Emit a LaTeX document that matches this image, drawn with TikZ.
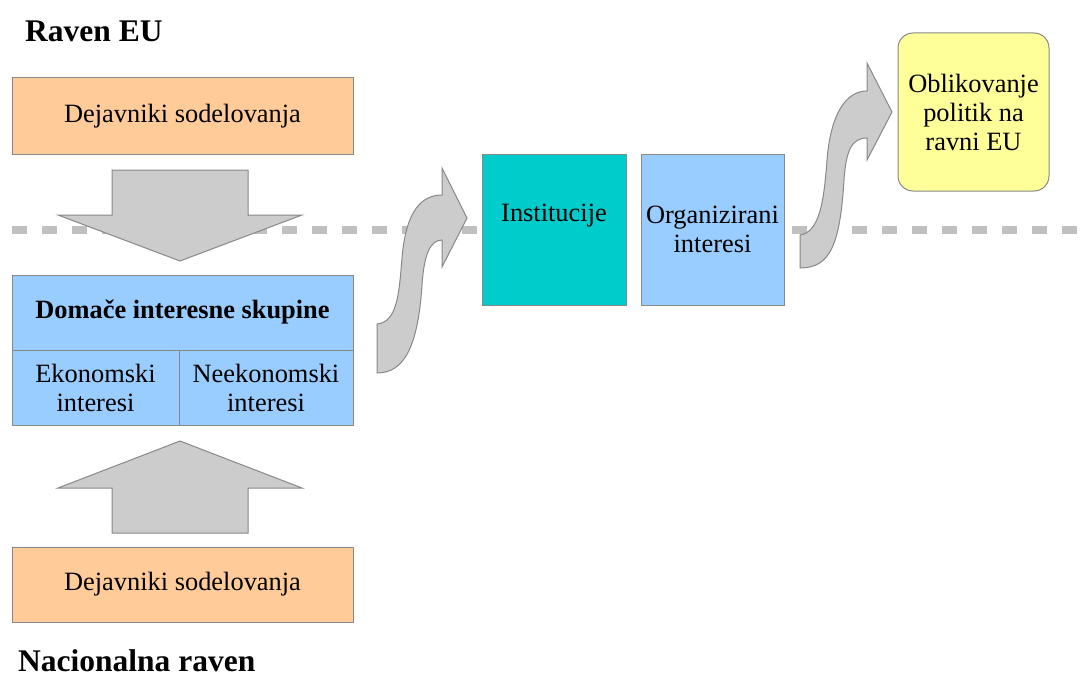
\documentclass[tikz,border=0pt]{standalone}
\usepackage{fontspec}
\setmainfont{Liberation Serif}

\definecolor{peach}{HTML}{FFCC99}
\definecolor{skyblue}{HTML}{99CCFF}
\definecolor{cyanbox}{HTML}{00CCCC}
\definecolor{paleyellow}{HTML}{FFFF99}
\definecolor{arrowfill}{HTML}{CCCCCC}
\definecolor{edgegray}{HTML}{888888}
\definecolor{dashgray}{HTML}{C0C0C0}

\begin{document}
\begin{tikzpicture}[x=1pt,y=-1pt,
    box/.style={draw=edgegray, line width=1pt, inner sep=0pt, align=center,
      font=\fontsize{26.4}{29}\selectfont},
    label/.style={inner sep=0pt, align=center, font=\fontsize{26.4}{29}\selectfont},
    title/.style={inner sep=0pt, font=\fontsize{31.5}{36}\selectfont\bfseries},
    blockarrow/.style={draw=edgegray, fill=arrowfill, line width=1pt, line join=miter}]

      \useasboundingbox (0,0) rectangle (1087,677);

      % level divider
      \draw[dashgray, line width=7.5pt, dash pattern=on 15pt off 15pt] (12,230) -- (1087,230);

      \node[title, anchor=base west] (eulevel) at (25,42) {Raven EU};
      \node[title, anchor=base west] (natlevel) at (18,671) {Nacionalna raven};

      \node[box, fill=peach, minimum width=341, minimum height=76] (topfactors) at (182.5,116) {Dejavniki sodelovanja};
      \node[box, fill=peach, minimum width=341, minimum height=75] (botfactors) at (182.5,584.5) {Dejavniki sodelovanja};

      \node[box, fill=skyblue, minimum width=341, minimum height=75, font=\fontsize{26.4}{29}\selectfont\bfseries] (domestic) at (182.5,312.5) {Domače interesne skupine};
      \node[box, fill=skyblue, minimum width=167, minimum height=75] (economic) at (95.5,387.5) {Ekonomski\\interesi};
      \node[box, fill=skyblue, minimum width=174, minimum height=75] (noneconomic) at (266,387.5) {Neekonomski\\interesi};

      \node[box, fill=cyanbox, minimum width=144, minimum height=151] (institutions) at (554,229.5) {};
      \node[label] (institutionstext) at (554,216) {Institucije};
      \node[box, fill=skyblue, minimum width=143, minimum height=151] (organized) at (712.5,229.5) {Organizirani\\interesi};
      \node[box, fill=paleyellow, rounded corners=15pt, minimum width=151, minimum height=158] (policy) at (973.5,112) {Oblikovanje\\politik na\\ravni EU};

      % block arrows
      \draw[blockarrow] (112,170) -- (248,170) -- (248,215) -- (302,215) -- (180,261) -- (58,215) -- (112,215) -- cycle;
      \draw[blockarrow] (112,533) -- (248,533) -- (248,488) -- (302,488) -- (180,441) -- (58,488) -- (112,488) -- cycle;

      \draw[blockarrow] (377,324) .. controls (397,322) and (399,295) .. (402,258)
        .. controls (406,210) and (422,195) .. (442,195) -- (442,168) -- (467,218) -- (442,267) -- (442,240)
        .. controls (430,240) and (424,255) .. (422,285) .. controls (418,345) and (405,373) .. (377,373) -- cycle;
      \draw[blockarrow] (800,235) .. controls (820,232) and (824,200) .. (827,160)
        .. controls (831,110) and (848,91) .. (867,91) -- (867,63) -- (892,112) -- (867,160) -- (867,138)
        .. controls (852,138) and (846,150) .. (844,180) .. controls (840,245) and (830,268) .. (800,268) -- cycle;
    \end{tikzpicture}
\end{document}
